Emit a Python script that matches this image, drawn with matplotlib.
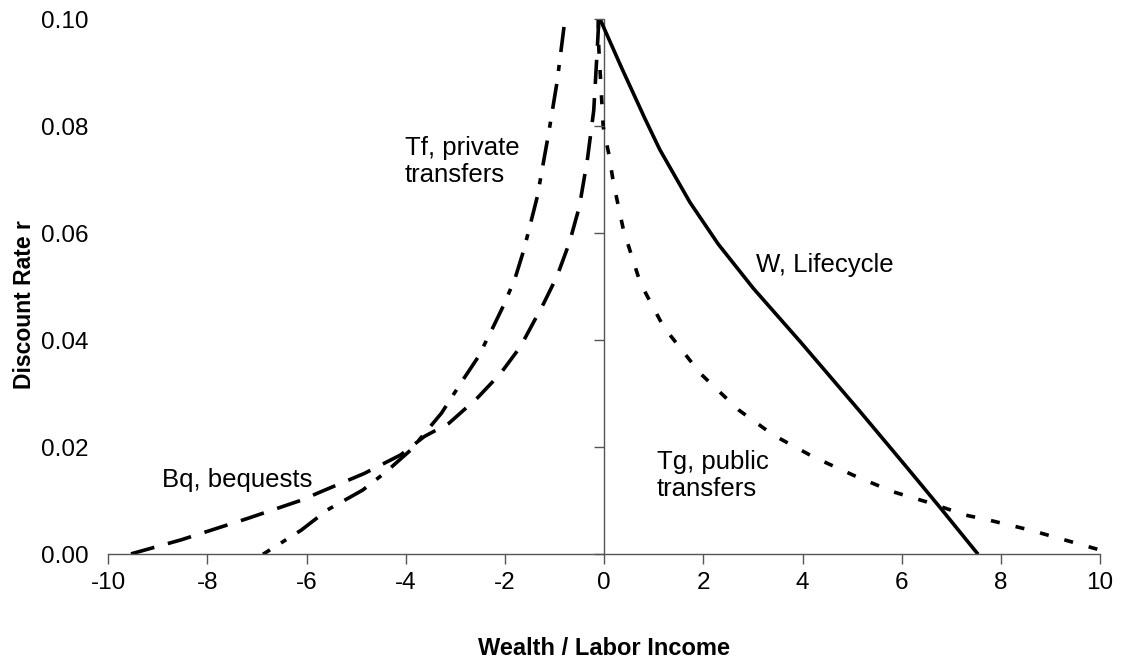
import matplotlib
matplotlib.use("Agg")
import matplotlib.pyplot as plt
from matplotlib.markers import TICKLEFT
import numpy as np

plt.rcParams['font.family'] = ['Liberation Sans', 'DejaVu Sans']

# W, lifecycle wealth (solid)
w_x = [-0.08, 0.35, 0.82, 1.12, 1.73, 2.30, 3.01, 3.95, 5.15, 6.09, 6.76, 7.54]
w_y = [0.100, 0.0910, 0.0815, 0.0757, 0.0658, 0.0580, 0.0497, 0.0398, 0.0268,
       0.0164, 0.0089, 0.0]

# Tg, public transfers (dotted)
tg_x = [-0.12, -0.11, -0.02, 0.09, 0.19, 0.39, 0.73, 1.2, 1.94, 2.71, 3.41, 4.22,
        5.02, 5.82, 6.50, 7.30, 7.80, 8.6, 10.0]
tg_y = [0.100, 0.095, 0.080, 0.075, 0.0693, 0.0606, 0.0507, 0.0425, 0.0338, 0.0270,
        0.0223, 0.0182, 0.0148, 0.0117, 0.0098, 0.0073, 0.0063, 0.0045, 0.0008]

# Tf, private transfers (dash-dot)
tf_x = [-0.81, -0.95, -1.12, -1.35, -1.62, -1.80, -2.03, -2.27, -2.54, -2.87,
        -3.28, -3.90, -4.40, -4.87, -5.58, -6.11, -6.88]
tf_y = [0.0986, 0.0883, 0.0787, 0.0668, 0.0569, 0.0515, 0.0465, 0.0419, 0.0369,
        0.0323, 0.0264, 0.0195, 0.0154, 0.0120, 0.0083, 0.0045, 0.0]

# Bq, bequests (long dash)
bq_x = [-0.11, -0.14, -0.21, -0.34, -0.50, -0.70, -0.95, -1.22, -1.69, -2.09,
        -2.56, -3.13, -3.63, -4.10, -4.84, -5.71, -6.11, -7.19, -8.53, -9.57]
bq_y = [0.0996, 0.0943, 0.083, 0.0737, 0.0650, 0.0583, 0.0520, 0.0469, 0.0388,
        0.0338, 0.0292, 0.0245, 0.0220, 0.0186, 0.0151, 0.0117, 0.0101, 0.0067,
        0.0027, 0.0]

x_ticks = [-10, -8, -6, -4, -2, 0, 2, 4, 6, 8, 10]
y_ticks = [0.00, 0.02, 0.04, 0.06, 0.08, 0.10]

axis_col = '#555555'
lw = 2.6

fig = plt.figure(figsize=(11.21, 6.6), dpi=100)
ax = fig.add_axes([0.0966, 0.1602, 0.8847, 0.8103])

ax.plot(w_x, w_y, color='black', lw=lw, solid_capstyle='butt',
        solid_joinstyle='round')
ax.plot(tg_x, tg_y, color='black', lw=lw, dashes=(2.5, 4.5))
ax.plot(tf_x, tf_y, color='black', lw=lw, dashes=(7, 3.6, 1.7, 3.6))
ax.plot(bq_x, bq_y, color='black', lw=lw, dashes=(6.7, 3.9))

# vertical axis drawn through x = 0, labels stay at the left
ax.axvline(0, color=axis_col, lw=1.0, zorder=1)
ax.plot(np.zeros(len(y_ticks)), y_ticks, ls='none', marker=TICKLEFT,
        ms=7, mew=1.0, color=axis_col, clip_on=False)

ax.set_xlim(-10, 10)
ax.set_ylim(0, 0.10)
ax.set_xticks(x_ticks)
ax.set_xticklabels([str(t) for t in x_ticks])
ax.set_yticks(y_ticks)
ax.set_yticklabels([f'{t:.2f}' for t in y_ticks])

for s in ['top', 'right', 'left']:
    ax.spines[s].set_visible(False)
ax.spines['bottom'].set_color(axis_col)
ax.spines['bottom'].set_linewidth(1.0)

ax.tick_params(axis='x', direction='out', length=7, width=1.0, color=axis_col,
               labelsize=17.5, pad=6)
ax.tick_params(axis='y', length=0, labelsize=17.5, pad=14)

ax.set_xlabel('Wealth / Labor Income', fontsize=17, fontweight='bold', labelpad=31)
fig.text(25 / 1121, 1 - 305 / 660, 'Discount Rate r', rotation=90,
         fontsize=16.5, fontweight='bold', ha='center', va='center')

ann = 18.5
ax.text(-4.02, 0.0782, 'Tf, private\ntransfers', fontsize=ann, va='top',
        ha='left', linespacing=1.15)
ax.text(3.07, 0.0541, 'W, Lifecycle', fontsize=ann, va='center', ha='left')
ax.text(1.06, 0.0195, 'Tg, public\ntransfers', fontsize=ann, va='top',
        ha='left', linespacing=1.15)
ax.text(-8.92, 0.0138, 'Bq, bequests', fontsize=ann, va='center', ha='left')

fig.savefig('out.png', dpi=100)
